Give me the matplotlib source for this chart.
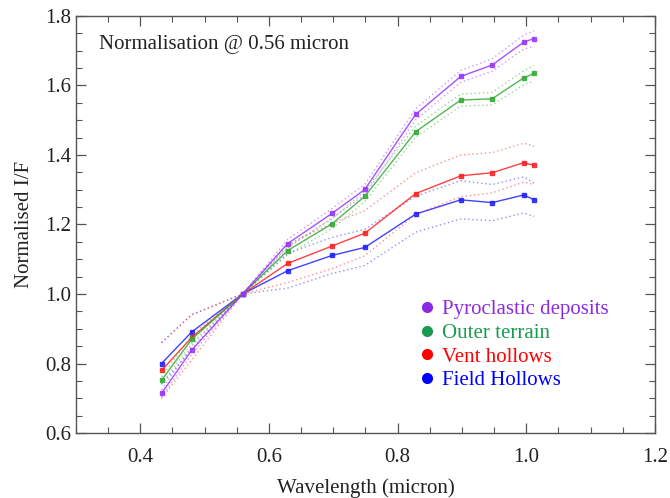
import matplotlib
matplotlib.use("Agg")
import matplotlib.pyplot as plt
from matplotlib.lines import Line2D
from matplotlib.ticker import MultipleLocator

plt.rcParams['font.family'] = ['Liberation Serif', 'DejaVu Serif']

wavelength = [0.433, 0.480, 0.559, 0.629, 0.698, 0.749, 0.828, 0.898, 0.947, 0.996, 1.012]

pyro = [0.714, 0.839, 1.000, 1.145, 1.232, 1.301, 1.517, 1.626, 1.659, 1.725, 1.735]
outer = [0.752, 0.870, 1.000, 1.125, 1.202, 1.281, 1.467, 1.558, 1.562, 1.622, 1.635]
vent = [0.780, 0.875, 1.000, 1.088, 1.138, 1.175, 1.289, 1.340, 1.349, 1.378, 1.370]
field = [0.800, 0.891, 1.000, 1.067, 1.111, 1.134, 1.230, 1.271, 1.263, 1.285, 1.271]

pyro_sd = [0.010, 0.012, 0.0, 0.012, 0.014, 0.015, 0.016, 0.017, 0.018, 0.020, 0.022]
outer_sd = [0.010, 0.012, 0.0, 0.012, 0.014, 0.015, 0.016, 0.017, 0.018, 0.020, 0.022]
vent_sd = [0.080, 0.065, 0.0, 0.055, 0.065, 0.065, 0.060, 0.060, 0.058, 0.056, 0.055]
field_sd = [0.060, 0.050, 0.0, 0.050, 0.052, 0.052, 0.052, 0.055, 0.052, 0.052, 0.048]

labels = ["Pyroclastic deposits", "Outer terrain", "Vent hollows", "Field Hollows"]
line_colors = ["#9933ff", "#33aa33", "#ff2020", "#2020ff"]
text_colors = ["#8a2be2", "#1a9a50", "#ff0000", "#0000ff"]
series = [pyro, outer, vent, field]
sds = [pyro_sd, outer_sd, vent_sd, field_sd]

fig = plt.figure(figsize=(6.70, 4.98), dpi=100)
ax = fig.add_axes([0.1134, 0.1305, 0.8642, 0.8374])

for vals, sd, c in zip(series[::-1], sds[::-1], line_colors[::-1]):
    up = [v + s for v, s in zip(vals, sd)]
    lo = [v - s for v, s in zip(vals, sd)]
    ax.plot(wavelength, up, ls=(0, (1, 2)), color=c, lw=1.0, alpha=0.5)
    ax.plot(wavelength, lo, ls=(0, (1, 2)), color=c, lw=1.0, alpha=0.5)
    ax.plot(wavelength, vals, '-', color=c, lw=1.0, alpha=0.85,
            marker='s', ms=3.2, mec=c, mfc=c)

ax.set_xlim(0.3, 1.2)
ax.set_ylim(0.6, 1.8)
ax.xaxis.set_major_locator(MultipleLocator(0.2))
ax.xaxis.set_minor_locator(MultipleLocator(0.05))
ax.yaxis.set_major_locator(MultipleLocator(0.2))
ax.yaxis.set_minor_locator(MultipleLocator(0.05))
ax.set_xticks([0.4, 0.6, 0.8, 1.0, 1.2])
ax.set_xticklabels(["0.4", "0.6", "0.8", "1.0", "1.2"])
ax.set_yticks([0.6, 0.8, 1.0, 1.2, 1.4, 1.6, 1.8])
ax.set_yticklabels(["0.6", "0.8", "1.0", "1.2", "1.4", "1.6", "1.8"])
ax.tick_params(which='both', direction='in', top=True, right=True,
               color='#555555', labelsize=15, labelcolor='#222222')
ax.tick_params(which='major', length=7, width=0.9)
ax.tick_params(which='minor', length=4, width=0.8)
ax.tick_params(axis='x', which='major', pad=11)
for s in ax.spines.values():
    s.set_color('#555555')
    s.set_linewidth(1.0)

ax.set_xlabel("Wavelength (micron)", fontsize=15, color='#222222', labelpad=8)
ax.set_ylabel("Normalised I/F", fontsize=15, color='#222222', labelpad=8)

ax.text(0.04, 0.955, "Normalisation @ 0.56 micron", transform=ax.transAxes,
        fontsize=15, color='#222222', va='top', ha='left')

handles = [Line2D([], [], ls='none', marker='o', ms=7, color=c) for c in text_colors]
leg = ax.legend(handles, labels, loc='upper left', bbox_to_anchor=(0.581, 0.34),
                frameon=False, handlelength=0.6, handletextpad=0.4,
                labelspacing=0.2, fontsize=15, borderaxespad=0)
for t, c in zip(leg.get_texts(), text_colors):
    t.set_color(c)

fig.savefig("out.png", dpi=100)
